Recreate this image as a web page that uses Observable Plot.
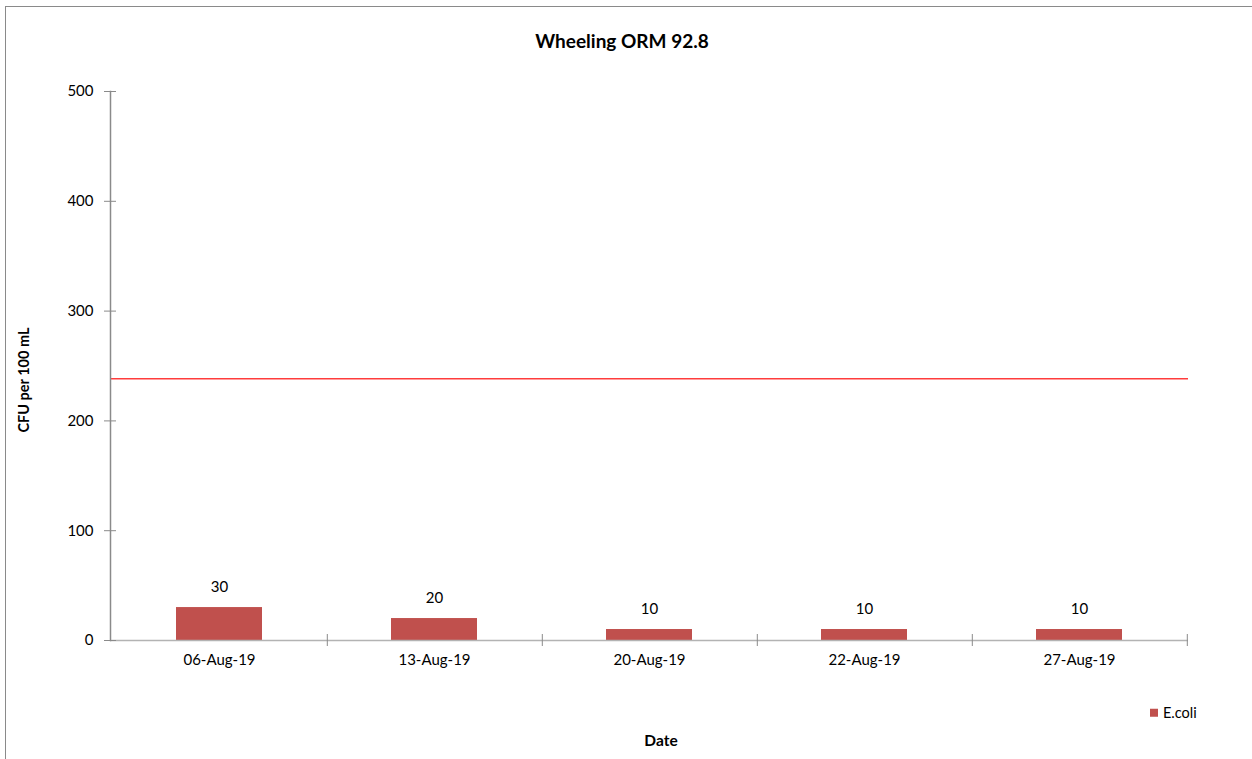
<!DOCTYPE html>
<html>
<head>
<meta charset="utf-8">
<script src="https://cdn.jsdelivr.net/npm/d3@7"></script>
<script src="https://cdn.jsdelivr.net/npm/@observablehq/plot@0.6"></script>
<style>
  html, body { margin: 0; padding: 0; background: #fff; overflow: hidden; width: 1252px; height: 759px; }
  body { position: relative; font-family: Lato, "Open Sans", sans-serif; color: #000; }
  #border { position: absolute; left: 5px; top: 6px; width: 1400px; height: 900px; border: 1.5px solid #8a8a8a; box-sizing: border-box; }
  #chart { position: absolute; left: 0; top: 0; }
  .lbl { position: absolute; white-space: nowrap; line-height: 1; }
  #title { left: 622px; top: 40px; transform: translate(-50%, -50%); font-weight: bold; font-size: 19px; }
  #ylab { left: 24px; top: 380px; transform: translate(-50%, -50%) rotate(-90deg); font-weight: bold; font-size: 14.5px; }
  #xlab { left: 661px; top: 741px; transform: translate(-50%, -50%); font-weight: bold; font-size: 15.5px; }
  #legend { left: 1150px; top: 713px; transform: translateY(-50%); font-size: 14.5px; display: flex; align-items: center; }
  #legend span.sw { display: inline-block; width: 8px; height: 8px; background: #C0504D; margin-right: 5px; }
</style>
</head>
<body>
<div id="border"></div>
<div id="chart"></div>
<div class="lbl" id="title">Wheeling ORM 92.8</div>
<div class="lbl" id="ylab">CFU per 100 mL</div>
<div class="lbl" id="xlab">Date</div>
<div class="lbl" id="legend"><span class="sw"></span>E.coli</div>
<script>
const dates = ["06-Aug-19", "13-Aug-19", "20-Aug-19", "22-Aug-19", "27-Aug-19"];
const ecoli = [30, 20, 10, 10, 10];
const limit = [238.5];
const yTicks = [0, 100, 200, 300, 400, 500];

const data = dates.map((d, i) => ({date: d, value: ecoli[i]}));

const W = 1252, H = 759;
const mL = 110, mR = 64, mT = 91, mB = 119;
const halfStep = (W - mL - mR) / dates.length / 2;

const chart = Plot.plot({
  width: W,
  height: H,
  marginLeft: mL,
  marginRight: mR,
  marginTop: mT,
  marginBottom: mB,
  style: {fontFamily: "Lato, 'Open Sans', sans-serif", fontSize: "15px", color: "#000", background: "transparent"},
  x: {domain: dates, paddingInner: 0.6, paddingOuter: 0.3, label: null},
  y: {domain: [0, 500], label: null},
  marks: [
    Plot.barY(data, {x: "date", y: "value", fill: "#C0504D"}),
    Plot.ruleY(limit, {stroke: "#ff3c3c", strokeWidth: 1.5}),
    Plot.ruleY([0], {stroke: "#b3b3b3", strokeWidth: 1.5}),
    Plot.frame({anchor: "left", stroke: "#8a8a8a", strokeWidth: 1.5}),
    Plot.axisY({ticks: yTicks, tickSize: 12, dx: 6, text: null, stroke: "#8a8a8a"}),
    Plot.axisY({ticks: yTicks, tickSize: 0, tickPadding: 17, fill: "#000", fontSize: 15}),
    Plot.axisX({tickSize: 12, dx: halfStep, dy: -6, text: null, stroke: "#8a8a8a"}),
    Plot.axisX({tickSize: 0, tickPadding: 14, fill: "#000", fontSize: 15}),
    Plot.text(data, {x: "date", y: "value", text: d => String(d.value), dy: -20, fontSize: 15, fill: "#000"})
  ]
});
document.getElementById("chart").appendChild(chart);
</script>
</body>
</html>
